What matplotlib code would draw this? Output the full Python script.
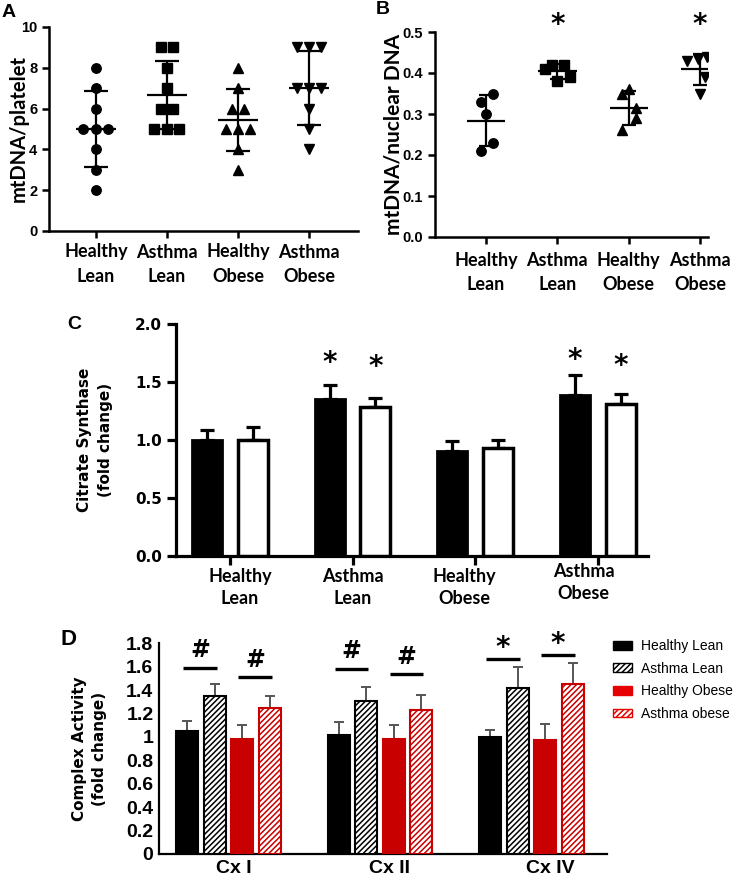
import numpy as np
import matplotlib
matplotlib.use("Agg")
import matplotlib.pyplot as plt
from matplotlib.patches import Patch
from matplotlib.transforms import ScaledTranslation, blended_transform_factory
from matplotlib.ticker import FuncFormatter

# ---- data ----
groups = ["Healthy\nLean", "Asthma\nLean", "Healthy\nObese", "Asthma\nObese"]

# A: mtDNA / platelet (one point per subject)
a_healthy_lean = [8, 7, 6, 5, 5, 5, 4, 3, 2]
a_asthma_lean = [9, 9, 8, 7, 6, 6, 5, 5, 5]
a_healthy_obese = [8, 7, 6, 6, 5, 5, 5, 4, 3]
a_asthma_obese = [9, 9, 9, 7, 7, 7, 6, 5, 4]

# B: mtDNA / nuclear DNA
b_healthy_lean = [0.35, 0.33, 0.30, 0.23, 0.21]
b_asthma_lean = [0.42, 0.42, 0.41, 0.39, 0.38]
b_healthy_obese = [0.36, 0.35, 0.315, 0.29, 0.26]
b_asthma_obese = [0.44, 0.435, 0.43, 0.39, 0.35]
b_star_groups = [1, 3]
b_star_y = 0.517

# C: citrate synthase (fold change), filled and open bars
cs_filled = [1.0, 1.35, 0.90, 1.39]
cs_filled_err = [0.085, 0.12, 0.09, 0.17]
cs_open = [1.0, 1.28, 0.93, 1.31]
cs_open_err = [0.11, 0.08, 0.07, 0.09]
cs_filled_star = [None, 1.66, None, 1.69]
cs_open_star = [None, 1.63, None, 1.64]

# D: complex activity (fold change)
complexes = ["Cx I", "Cx II", "Cx IV"]
d_names = ["Healthy Lean", "Asthma Lean", "Healthy Obese", "Asthma obese"]
d_healthy_lean = [1.05, 1.02, 1.00]
d_healthy_lean_err = [0.09, 0.105, 0.057]
d_asthma_lean = [1.35, 1.31, 1.42]
d_asthma_lean_err = [0.10, 0.12, 0.175]
d_healthy_obese = [0.98, 0.985, 0.97]
d_healthy_obese_err = [0.125, 0.12, 0.14]
d_asthma_obese = [1.25, 1.23, 1.45]
d_asthma_obese_err = [0.10, 0.13, 0.18]
d_sig_mark = ["#", "#", "*"]
d_sig_lean = [1.59, 1.58, 1.667]
d_sig_obese = [1.51, 1.535, 1.70]

# ---- style ----
W, H = 750, 881
RED = "#c80000"
LEG_RED = "#e60000"
LABEL_FONT = ["Lato", "DejaVu Sans"]
NUM_FONT = ["Liberation Sans", "DejaVu Sans"]
plt.rcParams["hatch.linewidth"] = 1.1

fig = plt.figure(figsize=(W / 100, H / 100), dpi=100)


def px_axes(left, top, right, bottom):
    return fig.add_axes([left / W, 1 - bottom / H, (right - left) / W, (bottom - top) / H])


def shift(artist, dx, dy=0):
    artist.set_transform(artist.get_transform() + ScaledTranslation(dx / 100, -dy / 100, fig.dpi_scale_trans))


def prism_axes(ax, lw=1.8):
    for s in ["top", "right"]:
        ax.spines[s].set_visible(False)
    for s in ["left", "bottom"]:
        ax.spines[s].set_linewidth(lw)
    ax.tick_params(width=lw, length=5, direction="out")


def jitter(vals, step):
    vals = np.asarray(vals, float)
    off = np.zeros(len(vals))
    for v in np.unique(vals):
        idx = np.where(vals == v)[0]
        off[idx] = (np.arange(len(idx)) - (len(idx) - 1) / 2) * step
    return off


def dot_panel(ax, series, markers, offsets, mean_hw, cap_hw):
    for i, (vals, m) in enumerate(zip(series, markers)):
        vals = np.asarray(vals, float)
        ax.plot(i + offsets[i], vals, ls="none", marker=m, ms=6.8, color="black", zorder=3)
        mu, sd = vals.mean(), vals.std(ddof=1)
        ax.hlines(mu, i - mean_hw, i + mean_hw, color="black", lw=1.6, zorder=4)
        ax.vlines(i, mu - sd, mu + sd, color="black", lw=1.6, zorder=4)
        ax.hlines([mu - sd, mu + sd], i - cap_hw, i + cap_hw, color="black", lw=1.6, zorder=4)
    ax.set_xticks(range(4))
    ax.set_xticklabels(groups, family=LABEL_FONT, fontweight="bold", fontsize=13)
    for lab in ax.get_xticklabels():
        lab.set_linespacing(1.5)
    for lab in ax.get_yticklabels():
        lab.set_family(NUM_FONT)
        lab.set_fontweight("bold")
        lab.set_fontsize(10.5)


# ---- A ----
axA = px_axes(49, 27, 358, 231)
a_series = [a_healthy_lean, a_asthma_lean, a_healthy_obese, a_asthma_obese]
prism_axes(axA)
axA.set_ylim(0, 10)
axA.set_yticks(range(0, 11, 2))
axA.set_xlim(-0.66, 3.69)
dot_panel(axA, a_series, ["o", "s", "^", "v"], [jitter(s, 0.175) for s in a_series], 0.28, 0.17)
axA.set_ylabel("mtDNA/platelet", family=LABEL_FONT, fontweight="bold", fontsize=14.5)
axA.yaxis.set_label_coords(-0.066, 0.5)
axA.tick_params(axis="x", pad=4)

# ---- B ----
axB = px_axes(435, 32, 708, 237)
b_series = [b_healthy_lean, b_asthma_lean, b_healthy_obese, b_asthma_obese]
b_offsets = [np.array([0.1, -0.07, 0.0, 0.1, -0.07]),
             np.array([-0.08, 0.09, -0.17, 0.18, 0.0]),
             np.array([0.0, -0.09, 0.1, 0.1, -0.09]),
             np.array([0.09, -0.03, -0.19, 0.07, 0.0])]
prism_axes(axB)
axB.set_ylim(0, 0.5)
axB.set_yticks(np.arange(0, 0.51, 0.1))
axB.yaxis.set_major_formatter(FuncFormatter(lambda v, p: f"{v:.1f}"))
axB.set_xlim(-0.715, 3.11)
dot_panel(axB, b_series, ["o", "s", "^", "v"], b_offsets, 0.27, 0.1)
for lab in axB.get_xticklabels():
    shift(lab, 12)
axB.tick_params(axis="x", pad=6)
axB.set_ylabel("mtDNA/nuclear DNA", family=LABEL_FONT, fontweight="bold", fontsize=15)
axB.yaxis.set_label_coords(-0.115, 0.5)
for g in b_star_groups:
    axB.text(g, b_star_y, "*", ha="center", va="center", fontsize=20, fontweight="bold")

# ---- C ----
axC = px_axes(176, 324, 648, 555.7)
prism_axes(axC, lw=2.3)
axC.tick_params(length=6.5)
axC.set_ylim(0, 2.0)
axC.set_xlim(-0.44, 3.41)
xc = np.arange(4)
bw, dx = 0.245, 0.186
axC.bar(xc - dx, cs_filled, bw, color="black", edgecolor="black", lw=2, zorder=3)
axC.bar(xc + dx, cs_open, bw, color="white", edgecolor="black", lw=2.5, zorder=3)
z = np.zeros(4)
axC.errorbar(xc - dx, cs_filled, yerr=[z, cs_filled_err], fmt="none", ecolor="black",
             elinewidth=2.3, capsize=5, capthick=2.3, zorder=2)
axC.errorbar(xc + dx, cs_open, yerr=[z, cs_open_err], fmt="none", ecolor="black",
             elinewidth=2.3, capsize=5, capthick=2.3, zorder=2)
for i in range(4):
    if cs_filled_star[i] is not None:
        axC.text(i - dx, cs_filled_star[i], "*", ha="center", va="center", fontsize=20, fontweight="bold")
    if cs_open_star[i] is not None:
        axC.text(i + dx, cs_open_star[i], "*", ha="center", va="center", fontsize=20, fontweight="bold")
axC.set_yticks(np.arange(0, 2.01, 0.5))
axC.yaxis.set_major_formatter(FuncFormatter(lambda v, p: f"{v:.1f}"))
for lab in axC.get_yticklabels():
    lab.set_fontweight("bold")
    lab.set_fontsize(11)
axC.set_xticks(xc)
axC.set_xticklabels([])
c_label_dx = [10, 0, -11, -14]
c_label_dy = [0, 0, 0, -5]
trC = blended_transform_factory(axC.transData, axC.transAxes)
for i, name in enumerate(groups):
    t = axC.text(i, 0, name, transform=trC, ha="center", va="top", family=LABEL_FONT,
                 fontweight="bold", fontsize=13, linespacing=1.4)
    shift(t, c_label_dx[i], 12 + c_label_dy[i])
axC.set_ylabel("Citrate Synthase\n(fold change)", fontweight="bold", fontsize=11, linespacing=1.5)
axC.yaxis.set_label_coords(-0.134, 0.5)

# ---- D ----
axD = px_axes(159, 643.3, 607, 854)
prism_axes(axD, lw=1.6)
axD.set_ylim(0, 1.8)
axD.set_xlim(-0.46, 2.5)
xd = np.arange(3)
pitch, bwd = 0.182, 0.145
d_vals = [d_healthy_lean, d_asthma_lean, d_healthy_obese, d_asthma_obese]
d_errs = [d_healthy_lean_err, d_asthma_lean_err, d_healthy_obese_err, d_asthma_obese_err]
faces = ["black", "white", RED, "white"]
edges = ["black", "black", RED, RED]
hatches = [None, "//////", None, "//////"]
for k in range(4):
    xs = xd + (k - 1.5) * pitch
    axD.bar(xs, d_vals[k], bwd, color=faces[k], edgecolor=edges[k], hatch=hatches[k], lw=1.5, zorder=3)
    axD.errorbar(xs, d_vals[k], yerr=[np.zeros(3), d_errs[k]], fmt="none", ecolor="#555555",
                 elinewidth=1.4, capsize=3.5, capthick=1.4, zorder=2)
for g in range(3):
    for k0, ylev in ((0, d_sig_lean[g]), (2, d_sig_obese[g])):
        x0 = g + (k0 - 1.5) * pitch - 0.026
        x1 = g + (k0 - 0.5) * pitch + 0.013
        axD.hlines(ylev, x0, x1, color="black", lw=2.4)
        if d_sig_mark[g] == "#":
            axD.text((x0 + x1) / 2, ylev + 0.15, "#", ha="center", va="center", fontsize=17, fontweight="bold")
        else:
            axD.text((x0 + x1) / 2, ylev + 0.09, "*", ha="center", va="center", fontsize=20, fontweight="bold")
axD.set_yticks(np.arange(0, 1.81, 0.2))
axD.yaxis.set_major_formatter(FuncFormatter(lambda v, p: f"{v:g}"))
axD.tick_params(axis="y", length=0, pad=4)
for lab in axD.get_yticklabels():
    lab.set_family(NUM_FONT)
    lab.set_fontweight("bold")
    lab.set_fontsize(14)
axD.set_xticks(xd)
axD.set_xticklabels(complexes, family=NUM_FONT, fontweight="bold", fontsize=14)
axD.tick_params(axis="x", length=0, pad=4)
for lab, dxl in zip(axD.get_xticklabels(), [5, 10, 19]):
    shift(lab, dxl)
axD.set_ylabel("Complex Activity\n(fold change)", fontweight="bold", fontsize=11, linespacing=1.45)
axD.yaxis.set_label_coords(-0.116, 0.5)

handles = [Patch(facecolor="black", edgecolor="black"),
           Patch(facecolor="white", edgecolor="black", hatch="//////"),
           Patch(facecolor=LEG_RED, edgecolor=LEG_RED),
           Patch(facecolor="white", edgecolor=LEG_RED, hatch="//////")]
fig.legend(handles, d_names, loc="upper left", bbox_to_anchor=(613 / W, 1 - 639 / H),
           frameon=False, prop={"family": NUM_FONT, "size": 10}, handlelength=1.4,
           handleheight=0.6, handletextpad=0.65, labelspacing=0.62, borderpad=0, borderaxespad=0)

# panel letters
fig.text(2 / W, 1 - 4 / H, "A", ha="left", va="top", family=NUM_FONT, fontweight="bold", fontsize=14)
fig.text(376 / W, 1 - 1 / H, "B", ha="left", va="top", family=NUM_FONT, fontweight="bold", fontsize=14)
fig.text(67 / W, 1 - 316 / H, "C", ha="left", va="top", family=NUM_FONT, fontweight="bold", fontsize=14)
fig.text(61 / W, 1 - 629 / H, "D", ha="left", va="top", family=NUM_FONT, fontweight="bold", fontsize=16)

fig.savefig("out.png", dpi=100)
